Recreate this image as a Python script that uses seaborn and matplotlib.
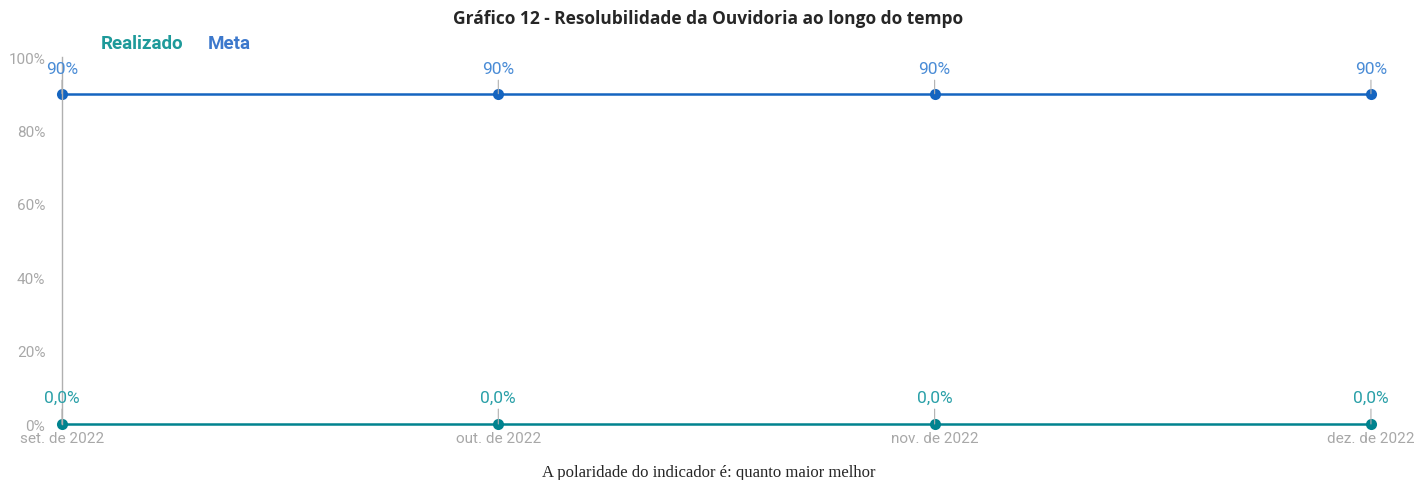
import numpy as np
import pandas as pd
import matplotlib
matplotlib.use("Agg")
import matplotlib.pyplot as plt
import seaborn as sns

months = ["set. de 2022", "out. de 2022", "nov. de 2022", "dez. de 2022"]
realizado = [0.0, 0.0, 0.0, 0.0]
meta = [90, 90, 90, 90]
yticks = [0, 20, 40, 60, 80, 100]

df = pd.DataFrame({
    "mes": list(range(len(months))) * 2,
    "valor": realizado + meta,
    "serie": ["Realizado"] * len(months) + ["Meta"] * len(months),
})

sns.set_style("white")
plt.rcParams["font.family"] = ["Roboto", "DejaVu Sans"]

teal = "#00838F"
blue = "#1565C0"
palette = {"Realizado": teal, "Meta": blue}

fig = plt.figure(figsize=(14.17, 4.81), dpi=100)
ax = fig.add_axes([0.04375, 0.1164, 0.9675 - 0.04375, 0.8794 - 0.1164])

sns.lineplot(data=df, x="mes", y="valor", hue="serie", palette=palette,
             marker="o", markersize=8, markeredgewidth=0, linewidth=1.8,
             legend=False, ax=ax)
for ln in ax.lines:
    ln.set_clip_on(False)

ax.set_xlim(0, len(months) - 1)
ax.set_ylim(0, 100)
ax.set_xticks(range(len(months)))
ax.set_xticklabels(months)
ax.set_yticks(yticks)
ax.set_yticklabels([f"{t}%" for t in yticks])
ax.tick_params(axis="both", length=0, labelsize=11, labelcolor="#a8a8a8")
ax.tick_params(axis="y", pad=12)
ax.tick_params(axis="x", pad=5)
ax.set_xlabel("")
ax.set_ylabel("")
for s in ["top", "right", "bottom"]:
    ax.spines[s].set_visible(False)
ax.spines["left"].set_color("#b0b0b0")
ax.spines["left"].set_linewidth(1)

# data labels with small leader lines
for i in range(len(months)):
    ax.annotate(f"{meta[i]}%", xy=(i, meta[i]), xytext=(0, 18.5), textcoords="offset points",
                ha="center", va="center", fontsize=12.5, color="#4a8cd6",
                arrowprops=dict(arrowstyle="-", color="#b0b0b0", lw=0.8, shrinkA=1, shrinkB=0))
    ax.annotate(f"{realizado[i]:.1f}%".replace(".", ","), xy=(i, realizado[i]), xytext=(0, 19.5),
                textcoords="offset points", ha="center", va="center", fontsize=12.5, color="#2aa0a8",
                arrowprops=dict(arrowstyle="-", color="#b0b0b0", lw=0.8, shrinkA=1, shrinkB=0))

# legend text
fig.text(101 / 1417, 1 - 44 / 481, "Realizado", fontsize=13.5, fontweight="bold", color="#1e9a9a",
         ha="left", va="center")
fig.text(208 / 1417, 1 - 44 / 481, "Meta", fontsize=13.5, fontweight="bold", color="#3c78cc",
         ha="left", va="center")

fig.text(0.5, 1 - 19 / 481, "Gráfico 12 - Resolubilidade da Ouvidoria ao longo do tempo",
         fontsize=12.5, fontweight="bold", ha="center", va="center", family=["Open Sans", "DejaVu Sans"])
fig.text(0.5, 1 - 473 / 481, "A polaridade do indicador é: quanto maior melhor",
         fontsize=12, ha="center", va="center", family=["Liberation Serif", "DejaVu Serif"])

fig.savefig("out.png", dpi=100)
